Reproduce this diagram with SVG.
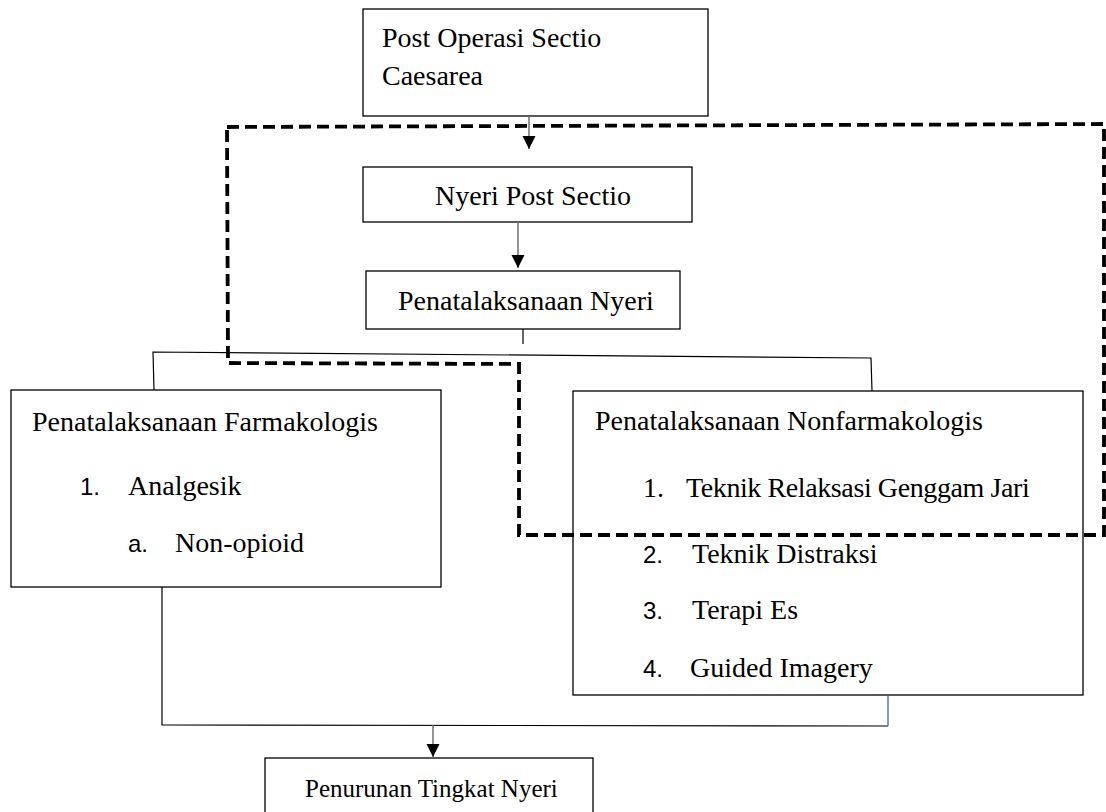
<svg xmlns="http://www.w3.org/2000/svg" width="1106" height="812" viewBox="0 0 1106 812">
<style>
.box{fill:#fff;stroke:#000;stroke-width:1.3}
.t{font-family:"Liberation Serif","Times New Roman",serif;font-size:28px;fill:#000}
.n{font-family:"Liberation Sans",Arial,sans-serif;font-size:24px;fill:#000}
.c{fill:none;stroke:#000;stroke-width:1.2}
.a{fill:none;stroke:#666;stroke-width:1.4}
.dash{fill:none;stroke:#000;stroke-width:3.8;stroke-dasharray:12 6}
</style>
<defs>
<marker id="arr" markerUnits="userSpaceOnUse" markerWidth="14" markerHeight="14" refX="13" refY="6.5" orient="auto">
<path d="M0,0 L13,6.5 L0,13 Z" fill="#000"/>
</marker>
</defs>
<rect width="1106" height="812" fill="#fff"/>
<g id="node-post-operasi">
<rect class="box" x="363" y="9" width="345" height="107"/>
<text class="t" x="382" y="47">Post Operasi Sectio</text>
<text class="t" x="382" y="85">Caesarea</text>
</g>
<g id="node-nyeri-post">
<rect class="box" x="363" y="167" width="329" height="55"/>
<text class="t" x="435" y="205">Nyeri Post Sectio</text>
</g>
<g id="node-penatalaksanaan">
<rect class="box" x="366" y="271" width="314" height="58"/>
<text class="t" x="398" y="310">Penatalaksanaan Nyeri</text>
</g>
<g id="node-farmakologis">
<rect class="box" x="11" y="390" width="430" height="197"/>
<text class="t" x="32" y="431">Penatalaksanaan Farmakologis</text>
<text class="n" x="80" y="495">1.</text>
<text class="t" x="128" y="495">Analgesik</text>
<text class="n" x="128" y="552">a.</text>
<text class="t" x="175" y="552">Non-opioid</text>
</g>
<g id="node-nonfarmakologis">
<rect class="box" x="573" y="391" width="510" height="304"/>
<text class="t" x="595" y="430">Penatalaksanaan Nonfarmakologis</text>
<text class="t" x="643" y="497">1.</text>
<text class="t" x="686" y="497" letter-spacing="-0.4">Teknik Relaksasi Genggam Jari</text>
<text class="n" x="643" y="563">2.</text>
<text class="t" x="692" y="563">Teknik Distraksi</text>
<text class="n" x="643" y="619">3.</text>
<text class="t" x="692" y="619">Terapi Es</text>
<text class="n" x="643" y="677">4.</text>
<text class="t" x="690" y="677">Guided Imagery</text>
</g>
<g id="node-penurunan">
<rect class="box" x="265" y="758" width="328" height="70"/>
<text class="t" x="305" y="797" style="font-size:25px">Penurunan Tingkat Nyeri</text>
</g>
<g id="group-boundary">
<path class="dash" d="M227,127 L1104,124 L1104,535 L519,535 L519,364 L228,363 Z"/>
</g>
<g id="connectors">
<line class="a" x1="529" y1="116" x2="529" y2="149" marker-end="url(#arr)"/>
<line class="a" x1="518" y1="222" x2="518" y2="268" marker-end="url(#arr)"/>
<line class="c" x1="523" y1="329" x2="523" y2="344"/>
<polyline class="c" points="154,390 153,352 871,358 872,391"/>
<polyline class="c" points="162,587 162,725 888,726"/>
<line x1="888" y1="696" x2="888" y2="726" stroke="#4472c4" stroke-width="1.4"/>
<line class="a" x1="433" y1="725" x2="433" y2="757" marker-end="url(#arr)"/>
</g>
</svg>
